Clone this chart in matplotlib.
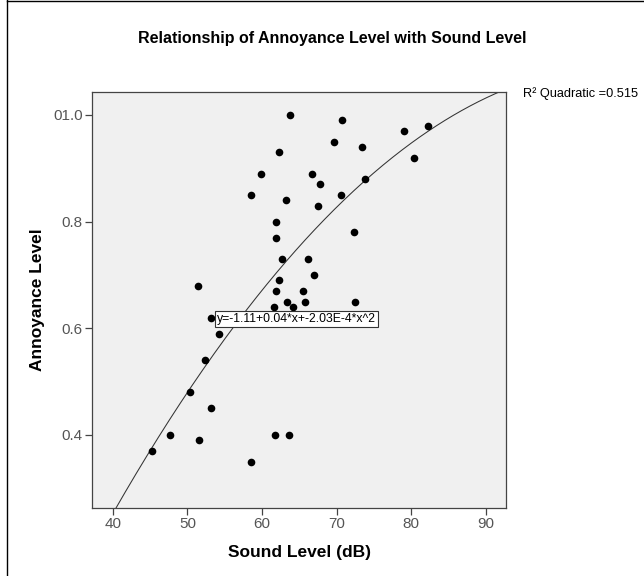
import matplotlib
matplotlib.use('Agg')
import matplotlib.pyplot as plt
from matplotlib.lines import Line2D
import numpy as np

plt.rcParams['font.family'] = ['Liberation Sans', 'DejaVu Sans']

# Data
sound_level = [63.8, 70.7, 69.6, 79.0, 82.2, 73.4, 62.3, 80.4, 59.9, 66.7,
               67.7, 73.8, 58.5, 70.6, 63.2, 67.5, 61.8, 61.8, 72.3, 62.7,
               66.1, 67.0, 62.3, 51.4, 61.9, 65.5, 63.4, 65.8, 72.4, 61.6,
               64.1, 53.1, 54.2, 52.4, 50.4, 53.1, 47.6, 51.5, 61.7, 63.6,
               45.3, 58.5]
annoyance = [1.00, 0.99, 0.95, 0.97, 0.98, 0.94, 0.93, 0.92, 0.89, 0.89,
             0.87, 0.88, 0.85, 0.85, 0.84, 0.83, 0.80, 0.77, 0.78, 0.73,
             0.73, 0.70, 0.69, 0.68, 0.67, 0.67, 0.65, 0.65, 0.65, 0.64,
             0.64, 0.62, 0.59, 0.54, 0.48, 0.45, 0.40, 0.39, 0.40, 0.40,
             0.37, 0.35]

x_ticks = [40, 50, 60, 70, 80, 90]
y_ticks = [0.4, 0.6, 0.8, 1.0]
y_tick_labels = ['0.4', '0.6', '0.8', '01.0']
fit_label = 'y=-1.11+0.04*x+-2.03E-4*x^2'
r2_label = 'R\u00b2 Quadratic =0.515'

fig = plt.figure(figsize=(6.44, 5.76), dpi=100)
ax = fig.add_axes([92 / 644, 1 - 508 / 576, 414 / 644, 416 / 576])
ax.set_facecolor('#f0f0f0')

# quadratic fit line
coef = np.polyfit(sound_level, annoyance, 2)
xs = np.linspace(37.2, 92.7, 300)
ax.plot(xs, np.polyval(coef, xs), color='#333333', linewidth=0.75)

ax.plot(sound_level, annoyance, linestyle='none', marker='o', markersize=5.5,
        color='black', markeredgewidth=0)

ax.set_xlim(37.2, 92.7)
ax.set_ylim(0.263, 1.043)
ax.set_xticks(x_ticks)
ax.set_yticks(y_ticks)
ax.set_yticklabels(y_tick_labels)
ax.tick_params(direction='out', length=5, width=0.9, color='#444444',
               labelcolor='#555555', labelsize=11, pad=1.5)
for sp in ax.spines.values():
    sp.set_color('#444444')
    sp.set_linewidth(0.9)

ax.set_xlabel('Sound Level (dB)', fontsize=12.5, fontweight='bold', labelpad=10)
ax.set_ylabel('Annoyance Level', fontsize=12.5, fontweight='bold', labelpad=6)

ax.text(53.95, 0.617, fit_label, fontsize=8.8, ha='left', va='center',
        bbox=dict(boxstyle='square,pad=0.15', facecolor='white',
                  edgecolor='#333333', linewidth=0.8))

fig.text(332 / 644, 1 - 38 / 576, 'Relationship of Annoyance Level with Sound Level',
         fontsize=11.5, fontweight='bold', ha='center', va='center')
fig.text(523 / 644, 1 - 94 / 576, r2_label, fontsize=9.2, ha='left', va='center')

# outer frame (partly cut off in the reference)
fig.add_artist(Line2D([7 / 644, 7 / 644], [0, 1], transform=fig.transFigure,
                      color='black', linewidth=1))
fig.add_artist(Line2D([7 / 644, 1], [1 - 1 / 576, 1 - 1 / 576], transform=fig.transFigure,
                      color='black', linewidth=1))

fig.savefig('out.png', dpi=100)
